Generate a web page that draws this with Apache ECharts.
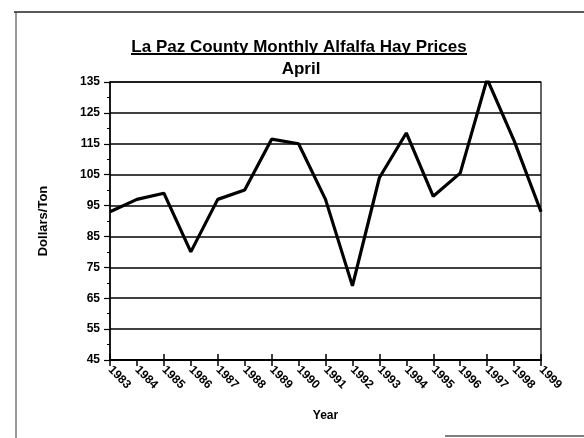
<!DOCTYPE html>
<html>
<head>
<meta charset="utf-8">
<script src="https://cdn.jsdelivr.net/npm/echarts@6/dist/echarts.min.js"></script>
<style>
  html, body { margin: 0; padding: 0; background: #fff; }
  #main { width: 584px; height: 438px; }
</style>
</head>
<body>
<div id="main"></div>
<script>
// data
var years = ['1983', '1984', '1985', '1986', '1987', '1988', '1989', '1990', '1991',
  '1992', '1993', '1994', '1995', '1996', '1997', '1998', '1999'];
var prices = [93, 97, 99, 80, 97, 100, 116.5, 115, 97, 69, 104, 118.5, 98, 105.5, 136, 116, 93];

var fnt = 'Arial, "Liberation Sans", sans-serif';
var chart = echarts.init(document.getElementById('main'));

var option = {
  backgroundColor: '#fff',
  animation: false,
  title: [
    {
      text: 'La Paz County Monthly Alfalfa Hay Prices',
      left: 294, top: 34, textAlign: 'center',
      textStyle: { fontFamily: fnt, fontSize: 17, fontWeight: 'bold', color: '#000' }
    },
    {
      text: 'April',
      left: 296, top: 56, textAlign: 'center',
      textStyle: { fontFamily: fnt, fontSize: 17, fontWeight: 'bold', color: '#000' }
    }
  ],
  graphic: [
    { type: 'line', shape: { x1: 131, y1: 54, x2: 467, y2: 54 }, style: { stroke: '#000', lineWidth: 1.8 } },
    // scanned page frame
    { type: 'line', shape: { x1: 14, y1: 12, x2: 584, y2: 12 }, style: { stroke: '#222', lineWidth: 1.5 } },
    { type: 'line', shape: { x1: 16, y1: 12, x2: 16, y2: 438 }, style: { stroke: '#333', lineWidth: 1 } },
    { type: 'line', shape: { x1: 445, y1: 436, x2: 584, y2: 436 }, style: { stroke: '#555', lineWidth: 1.5 } }
  ],
  grid: {
    left: 110, right: 43, top: 82, bottom: 78,
    show: true, borderColor: '#000', borderWidth: 1.2
  },
  xAxis: [
    {
      type: 'category',
      data: years,
      boundaryGap: false,
      name: 'Year',
      nameLocation: 'middle',
      nameGap: 50,
      nameTextStyle: { fontFamily: fnt, fontSize: 12, fontWeight: 'bold', color: '#000' },
      axisLine: { lineStyle: { color: '#000', width: 2 } },
      axisTick: { alignWithLabel: true, length: 6, lineStyle: { color: '#000', width: 1.5 } },
      axisLabel: {
        rotate: -45, interval: 0, margin: 8,
        fontFamily: fnt, fontSize: 12, fontWeight: 'bold', color: '#000'
      },
      splitLine: { show: false }
    },
    {
      type: 'category',
      data: years,
      boundaryGap: false,
      position: 'bottom',
      axisLine: { show: false },
      axisTick: { inside: true, length: 6, lineStyle: { color: '#000', width: 1.5 } },
      axisLabel: { show: false },
      splitLine: { show: false }
    }
  ],
  yAxis: {
    type: 'value',
    min: 45, max: 135, interval: 10,
    name: 'Dollars/Ton',
    nameLocation: 'middle',
    nameGap: 60,
    nameTextStyle: { fontFamily: fnt, fontSize: 13, fontWeight: 'bold', color: '#000' },
    axisLine: { show: true, lineStyle: { color: '#000', width: 1.5 } },
    axisTick: { show: true, length: 6, lineStyle: { color: '#000', width: 1.2 } },
    minorTick: { show: true, splitNumber: 2, length: 3, lineStyle: { color: '#000', width: 1 } },
    axisLabel: { margin: 10, fontFamily: fnt, fontSize: 12, fontWeight: 'bold', color: '#000' },
    splitLine: { show: true, lineStyle: { color: '#000', width: 1.5 } }
  },
  series: [
    {
      type: 'line',
      data: prices,
      showSymbol: false,
      lineStyle: { color: '#000', width: 3.2 },
      z: 5
    }
  ]
};

chart.setOption(option);
</script>
</body>
</html>
